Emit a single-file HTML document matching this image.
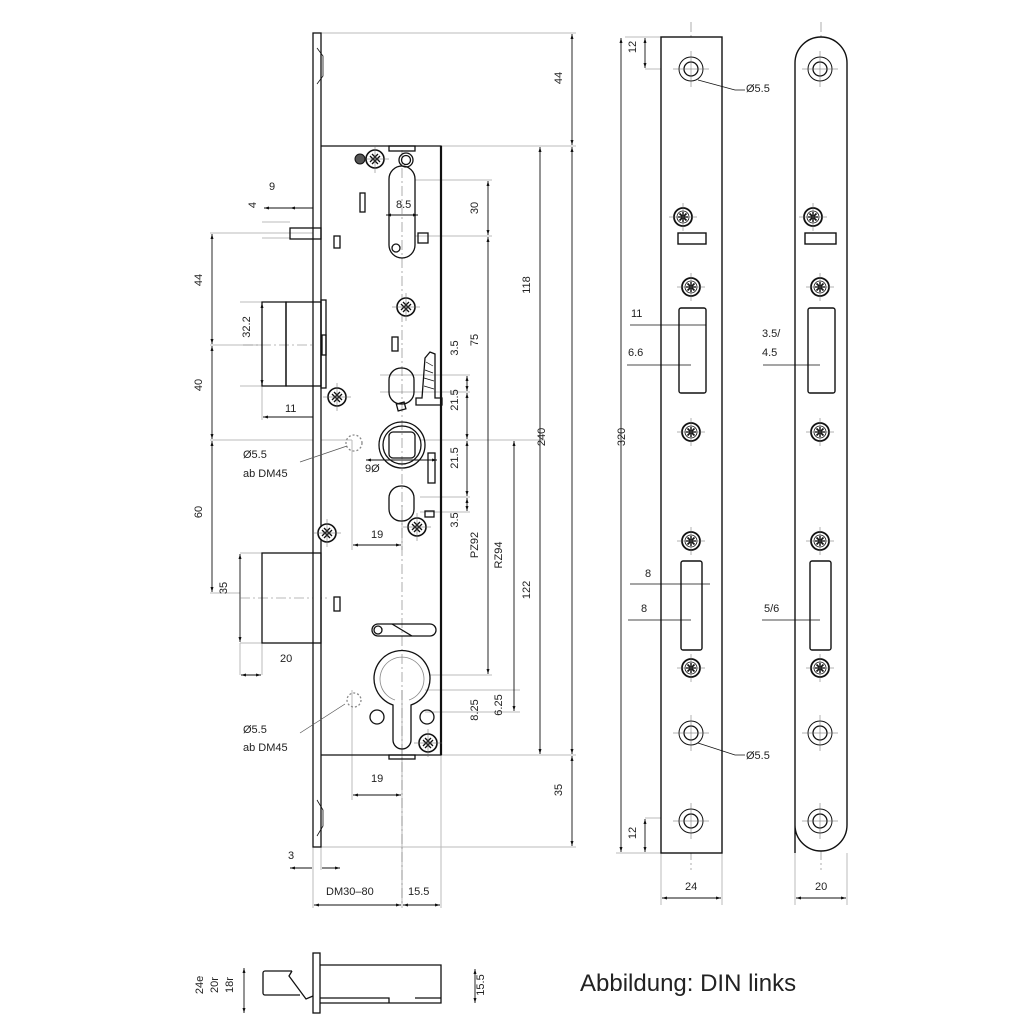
<!DOCTYPE html>
<html><head><meta charset="utf-8"><style>
html,body{margin:0;padding:0;background:#fff}
svg{display:block}
text{font-family:"Liberation Sans",sans-serif;font-size:11px;fill:#222}
</style></head><body>
<svg width="1033" height="1033" viewBox="0 0 1033 1033" xmlns="http://www.w3.org/2000/svg">
<defs>
<marker id="a" viewBox="0 0 10 10" refX="10" refY="5" markerWidth="9" markerHeight="5" markerUnits="userSpaceOnUse" orient="auto-start-reverse"><path d="M0,2L10,5L0,8z" fill="#111"/></marker>
<g id="scr"><circle r="9" fill="#fff" stroke="#111" stroke-width="1.8"/><circle r="6" fill="none" stroke="#111" stroke-width="0.8"/><path d="M-5,0H5M0,-5V5M-3.5,-3.5L3.5,3.5M-3.5,3.5L3.5,-3.5" stroke="#111" stroke-width="1.6"/><path d="M-14,0H14M0,-14V14" stroke="#666" stroke-width="0.5"/></g>
<g id="ph"><circle r="9" fill="#fff" stroke="#111" stroke-width="1.6"/><path d="M-5,-3L3,5M-3,-5L5,3M-5,3L3,-5M-3,5L5,-3" stroke="#111" stroke-width="1.3"/><path d="M-14,0H14M0,-14V14" stroke="#666" stroke-width="0.5"/></g>
<g id="ring"><circle r="12" fill="#fff" stroke="#111" stroke-width="1"/><circle r="7" fill="none" stroke="#111" stroke-width="1.3"/><path d="M-18,0H18M0,-18V18" stroke="#666" stroke-width="0.5"/></g>
</defs>
<g fill="none" stroke="#bbb" stroke-width="1">
<path d="M321,33H576M441,146H576M441,755H576M321,847H576"/>
<path d="M661,37H625M661,853H616M645,69H700M645,818H700"/>
<path d="M661,853V905M722,853V905M795,853V905M847,853V905"/>
<path d="M313,847V908M441,755V908M402,755V908M321,847V870"/>
<path d="M262,386V420M321,386V420M240,643V675M262,643V675"/>
<path d="M210,233H320M210,345H262M210,440H352M210,593H240M240,553H262M240,643H262"/>
<path d="M262,302H240M262,386H240M262,222H290M262,238H290"/>
<path d="M415,180H492M415,236H492M380,375H470M380,392H470M420,440H545M420,497H470M420,512H470M430,675H492M425,690H520M425,712H520"/>
<path d="M352,440V550M402,505V550M352,690V800M402,690V800"/>
</g>
<g fill="none" stroke="#111" stroke-width="0.9" marker-start="url(#a)" marker-end="url(#a)">
<path d="M572,34V145"/><path d="M572,147V754"/><path d="M572,756V846"/>
<path d="M540,147V754"/>
<path d="M488,181V235"/><path d="M488,237V674"/>
<path d="M514,441V711"/>
<path d="M467,376V391"/><path d="M467,393V439"/><path d="M467,441V496"/><path d="M467,498V511"/>
<path d="M212,234V344"/><path d="M212,346V439"/><path d="M212,441V592"/>
<path d="M240,554V642"/><path d="M262,303V385"/>
<path d="M263,417H320"/><path d="M241,675H261"/>
<path d="M353,545H401"/><path d="M353,795H401"/>
<path d="M314,905H401"/><path d="M403,905H440"/>
<path d="M621,38V852"/><path d="M645,38V68"/><path d="M645,819V852"/>
<path d="M662,898H721"/><path d="M796,898H846"/>
<path d="M264,208H290M314,208H290"/>
<path d="M386,215H418"/><path d="M366,460H437"/>
<path d="M290,868H312M322,868H340"/>
<path d="M475,969V1003"/><path d="M244,968V1013"/>
</g>
<g stroke="#777" stroke-width="0.6" stroke-dasharray="10,3,2,3" fill="none">
<path d="M402,150V905M691,22V870M821,22V870M243,345H320M240,598H330"/>
</g>
<g fill="none" stroke="#111" stroke-width="1.3">
<rect x="313" y="33" width="8" height="814" fill="#fff"/>
<path d="M321,146H441V755H321"/>
<path d="M441,146V755" stroke-width="2.2"/>
<rect x="290" y="228" width="31" height="11"/>
<rect x="286" y="302" width="35" height="84"/>
<rect x="321" y="300" width="5" height="88"/>
<rect x="322" y="335" width="4" height="20"/>
<path d="M262,302H286V386H262Z"/>
<rect x="262" y="553" width="59" height="90"/>
<rect x="389" y="146" width="26" height="5"/>
<rect x="389" y="755" width="26" height="4"/>
<rect x="389" y="166" width="26" height="92" rx="13"/>
<circle cx="406" cy="160" r="7"/><circle cx="406" cy="160" r="4.5"/>
<circle cx="396" cy="248" r="4"/>
<rect x="360" y="193" width="5" height="19"/><rect x="334" y="236" width="6" height="12"/>
<rect x="418" y="233" width="10" height="10"/>
<rect x="392" y="337" width="6" height="14"/>
<rect x="389" y="368" width="25" height="36" rx="12"/>
<path d="M425,358L430,352L435,354V398H442V405H416V398H422Z"/>
<path d="M426,362L433,366M425,370L433,373M424,378L434,381M424,386L434,389" stroke-width="0.7"/>
<rect x="397" y="403" width="8" height="7" transform="rotate(-15 401 406)"/>
<circle cx="402" cy="445" r="23"/><circle cx="402" cy="445" r="19"/><rect x="389" y="432" width="26" height="26" rx="4"/>
<circle cx="354" cy="443" r="8" stroke="#888" stroke-dasharray="2,2"/>
<rect x="428" y="453" width="7" height="30"/>
<rect x="389" y="486" width="25" height="35" rx="12"/>
<rect x="425" y="511" width="9" height="6"/>
<rect x="334" y="597" width="6" height="14"/>
<path d="M378,624H430A5,5 0 0 1 430,636H378A6,6 0 0 1 378,624Z"/><circle cx="378" cy="630" r="4"/><path d="M392,624L412,636"/>
<path d="M393,705A28,28 0 1 1 411,705V740A9,9 0 0 1 393,740Z"/>
<path d="M395,700A22,22 0 1 1 409,700" stroke="#888" stroke-width="0.8"/>
<circle cx="377" cy="717" r="7"/><circle cx="427" cy="717" r="7"/>
<circle cx="354" cy="700" r="7" stroke="#888" stroke-dasharray="2,2"/>
<path d="M317,48L323,56V76L317,84M317,800L323,810V826L317,836" stroke-width="0.8"/>
</g>
<use href="#ph" x="375" y="159"/><circle cx="360" cy="159" r="5" fill="#555" stroke="#111"/>
<use href="#ph" x="406" y="307"/><use href="#ph" x="337" y="397"/><use href="#ph" x="327" y="533"/><use href="#ph" x="417" y="527"/><use href="#ph" x="428" y="743"/>
<path d="M300,462L347,446M300,733L345,704" stroke="#555" stroke-width="0.7"/>
<g fill="none" stroke="#111" stroke-width="1.4">
<rect x="661" y="37" width="61" height="816" fill="#fff"/>
<path d="M795,853V63A26,26 0 0 1 847,63V825A26,26 0 0 1 795,825Z" fill="#fff"/>
<rect x="678" y="233" width="28" height="11"/><rect x="805" y="233" width="31" height="11"/>
<rect x="679" y="308" width="27" height="85" rx="2"/><rect x="808" y="308" width="27" height="85" rx="2"/>
<rect x="681" y="561" width="21" height="89" rx="2"/><rect x="810" y="561" width="21" height="89" rx="2"/>
</g>
<use href="#ring" x="691" y="69"/><use href="#ring" x="691" y="733"/><use href="#ring" x="691" y="821"/>
<use href="#ring" x="820" y="69"/><use href="#ring" x="820" y="733"/><use href="#ring" x="820" y="821"/>
<use href="#scr" x="683" y="217"/><use href="#scr" x="691" y="287"/><use href="#scr" x="691" y="432"/><use href="#scr" x="691" y="541"/><use href="#scr" x="691" y="668"/>
<use href="#scr" x="813" y="217"/><use href="#scr" x="820" y="287"/><use href="#scr" x="820" y="432"/><use href="#scr" x="820" y="541"/><use href="#scr" x="820" y="668"/>
<g stroke="#111" stroke-width="0.8" fill="none">
<path d="M698,80L735,90H745M698,743L735,755H745"/>
<path d="M630,325H706M627,365H691M763,365H820M630,584H710M628,620H691M762,620H820"/>
</g>
<g fill="none" stroke="#111" stroke-width="1.3">
<rect x="313" y="953" width="7" height="60"/>
<path d="M320,965H441V1003H320M320,998H389V1003M415,998H441"/>
<path d="M292,971H265A2,2 0 0 0 263,973V993A2,2 0 0 0 265,995H300"/>
<path d="M292,971L289,976L306,999L313,996"/>
</g>
<text x="272" y="190" text-anchor="middle">9</text>
<text x="396" y="208">8.5</text>
<text x="285" y="412">11</text><text x="280" y="662">20</text>
<text x="371" y="538">19</text><text x="371" y="782">19</text>
<text x="365" y="472">9Ø</text>
<text x="243" y="458">Ø5.5</text><text x="243" y="477">ab DM45</text>
<text x="243" y="733">Ø5.5</text><text x="243" y="751">ab DM45</text>
<text x="288" y="859">3</text>
<text x="326" y="895">DM30–80</text><text x="408" y="895">15.5</text>
<text x="746" y="92">Ø5.5</text><text x="746" y="759">Ø5.5</text>
<text x="631" y="317">11</text><text x="628" y="356">6.6</text>
<text x="762" y="337">3.5/</text><text x="762" y="356">4.5</text>
<text x="645" y="577">8</text><text x="641" y="612">8</text><text x="764" y="612">5/6</text>
<text x="685" y="890">24</text><text x="815" y="890">20</text>
<g>
<text transform="translate(256,205) rotate(-90)" text-anchor="middle">4</text>
<text transform="translate(202,280) rotate(-90)" text-anchor="middle">44</text>
<text transform="translate(250,327) rotate(-90)" text-anchor="middle">32.2</text>
<text transform="translate(202,385) rotate(-90)" text-anchor="middle">40</text>
<text transform="translate(202,512) rotate(-90)" text-anchor="middle">60</text>
<text transform="translate(227,588) rotate(-90)" text-anchor="middle">35</text>
<text transform="translate(478,208) rotate(-90)" text-anchor="middle">30</text>
<text transform="translate(530,285) rotate(-90)" text-anchor="middle">118</text>
<text transform="translate(562,78) rotate(-90)" text-anchor="middle">44</text>
<text transform="translate(562,790) rotate(-90)" text-anchor="middle">35</text>
<text transform="translate(545,437) rotate(-90)" text-anchor="middle">240</text>
<text transform="translate(625,437) rotate(-90)" text-anchor="middle">320</text>
<text transform="translate(458,348) rotate(-90)" text-anchor="middle">3.5</text>
<text transform="translate(478,340) rotate(-90)" text-anchor="middle">75</text>
<text transform="translate(458,400) rotate(-90)" text-anchor="middle">21.5</text>
<text transform="translate(458,458) rotate(-90)" text-anchor="middle">21.5</text>
<text transform="translate(458,520) rotate(-90)" text-anchor="middle">3.5</text>
<text transform="translate(478,545) rotate(-90)" text-anchor="middle">PZ92</text>
<text transform="translate(502,555) rotate(-90)" text-anchor="middle">RZ94</text>
<text transform="translate(530,590) rotate(-90)" text-anchor="middle">122</text>
<text transform="translate(478,710) rotate(-90)" text-anchor="middle">8.25</text>
<text transform="translate(502,705) rotate(-90)" text-anchor="middle">6.25</text>
<text transform="translate(636,47) rotate(-90)" text-anchor="middle">12</text>
<text transform="translate(636,833) rotate(-90)" text-anchor="middle">12</text>
<text transform="translate(484,985) rotate(-90)" text-anchor="middle">15.5</text>
<text transform="translate(203,985) rotate(-90)" text-anchor="middle">24e</text>
<text transform="translate(218,985) rotate(-90)" text-anchor="middle">20r</text>
<text transform="translate(233,985) rotate(-90)" text-anchor="middle">18r</text>
</g>
<text x="580" y="991" style="font-size:24px">Abbildung: DIN links</text>
</svg>
</body></html>
